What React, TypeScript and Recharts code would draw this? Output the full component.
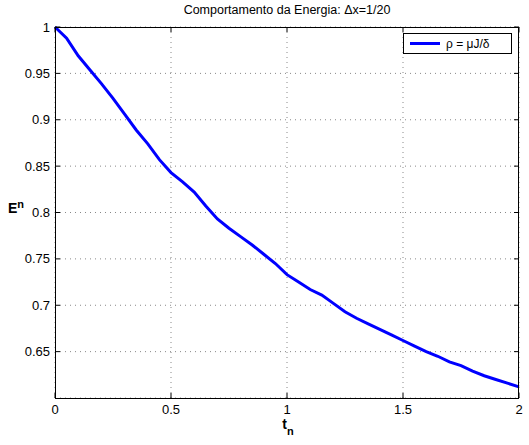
import React from 'react';
import { LineChart, Line, XAxis, YAxis, CartesianGrid } from 'recharts';

const tValues = [
  0, 0.05, 0.1, 0.15, 0.2, 0.25, 0.3, 0.35, 0.4, 0.45, 0.5, 0.55, 0.6, 0.65, 0.7, 0.75, 0.8, 0.85, 0.9, 0.95, 1.0,
  1.05, 1.1, 1.15, 1.2, 1.25, 1.3, 1.35, 1.4, 1.45, 1.5, 1.55, 1.6, 1.65, 1.7, 1.75, 1.8, 1.85, 1.9, 1.95, 2.0,
];
const energyValues = [
  1.0, 0.988, 0.969, 0.954, 0.939, 0.923, 0.906, 0.889, 0.874, 0.857, 0.843, 0.833, 0.822, 0.807, 0.793, 0.783,
  0.774, 0.765, 0.755, 0.745, 0.733, 0.725, 0.717, 0.711, 0.702, 0.693, 0.686, 0.68, 0.674, 0.668, 0.662, 0.656,
  0.65, 0.645, 0.639, 0.635, 0.629, 0.624, 0.62, 0.616, 0.612,
];
const xTicks = [0, 0.5, 1, 1.5, 2];
const yTicks = [0.65, 0.7, 0.75, 0.8, 0.85, 0.9, 0.95, 1];

const data = tValues.map((t, i) => ({ t, e: energyValues[i] }));

const FONT = '"Liberation Sans", Arial, Helvetica, sans-serif';
const W = 529;
const H = 445;
const LEFT = 55;
const RIGHT = 519;
const TOP = 27;
const BOTTOM = 398;
const X_GAP = 7;
const Y_GAP = 5;

// MATLAB-style inward ticks on all four sides
const XTick = (props: any) => {
  const { x, y, payload } = props;
  return (
    <g>
      <line x1={x} x2={x} y1={BOTTOM} y2={BOTTOM - 5} stroke="#000" />
      <line x1={x} x2={x} y1={TOP} y2={TOP + 5} stroke="#000" />
      <text x={x} y={y} dy="0.71em" textAnchor="middle" fontSize={13} fontFamily={FONT} fill="#000">
        {String(payload.value)}
      </text>
    </g>
  );
};

const YTick = (props: any) => {
  const { x, y, payload } = props;
  return (
    <g>
      <line x1={LEFT} x2={LEFT + 5} y1={y} y2={y} stroke="#000" />
      <line x1={RIGHT} x2={RIGHT - 5} y1={y} y2={y} stroke="#000" />
      <text x={x} y={y} dy="0.355em" textAnchor="end" fontSize={13} fontFamily={FONT} fill="#000">
        {String(payload.value)}
      </text>
    </g>
  );
};

export default function App() {
  return (
    <div style={{ position: 'absolute', left: 0, top: 0, width: W, height: H, background: '#fff', fontFamily: FONT }}>
      <LineChart width={W} height={H} data={data} margin={{ top: TOP, right: W - RIGHT, bottom: 0, left: 0 }}>
        <CartesianGrid stroke="#888" strokeDasharray="1 4" />
        <XAxis
          dataKey="t"
          type="number"
          domain={[0, 2]}
          ticks={xTicks}
          height={H - BOTTOM}
          tickSize={0}
          tickMargin={X_GAP}
          axisLine={false}
          tick={<XTick />}
        />
        <YAxis
          type="number"
          domain={[0.6, 1]}
          ticks={yTicks}
          width={LEFT}
          tickSize={0}
          tickMargin={Y_GAP}
          axisLine={false}
          tick={<YTick />}
        />
        <Line type="linear" dataKey="e" stroke="#0000ff" strokeWidth={3} dot={false} isAnimationActive={false} />
      </LineChart>
      <svg width={W} height={H} style={{ position: 'absolute', left: 0, top: 0, pointerEvents: 'none' }}>
        <rect x={LEFT + 0.5} y={TOP + 0.5} width={RIGHT - LEFT - 1} height={BOTTOM - TOP} fill="none" stroke="#000" />
      </svg>
      <div style={{ position: 'absolute', left: LEFT, width: RIGHT - LEFT, top: 3, textAlign: 'center', fontSize: 12.5, color: '#000' }}>
        Comportamento da Energia: Δx=1/20
      </div>
      <div style={{ position: 'absolute', left: 288, top: 416, transform: 'translateX(-50%)', fontSize: 14, fontWeight: 'bold', lineHeight: '16px' }}>
        t<sub style={{ fontSize: 11, verticalAlign: '-6px' }}>n</sub>
      </div>
      <div style={{ position: 'absolute', left: 8, top: 196, fontSize: 14, fontWeight: 'bold', lineHeight: '16px' }}>
        E<sup style={{ fontSize: 11, verticalAlign: '5px' }}>n</sup>
      </div>
      <div
        style={{
          position: 'absolute',
          left: 403,
          top: 33,
          width: 109,
          height: 21,
          border: '1px solid #000',
          background: '#fff',
          display: 'flex',
          alignItems: 'center',
          fontSize: 12,
          boxSizing: 'border-box',
        }}
      >
        <div style={{ width: 30, height: 3, background: '#0000ff', marginLeft: 6, marginRight: 6 }} />
        <span>ρ = μJ/δ</span>
      </div>
    </div>
  );
}
